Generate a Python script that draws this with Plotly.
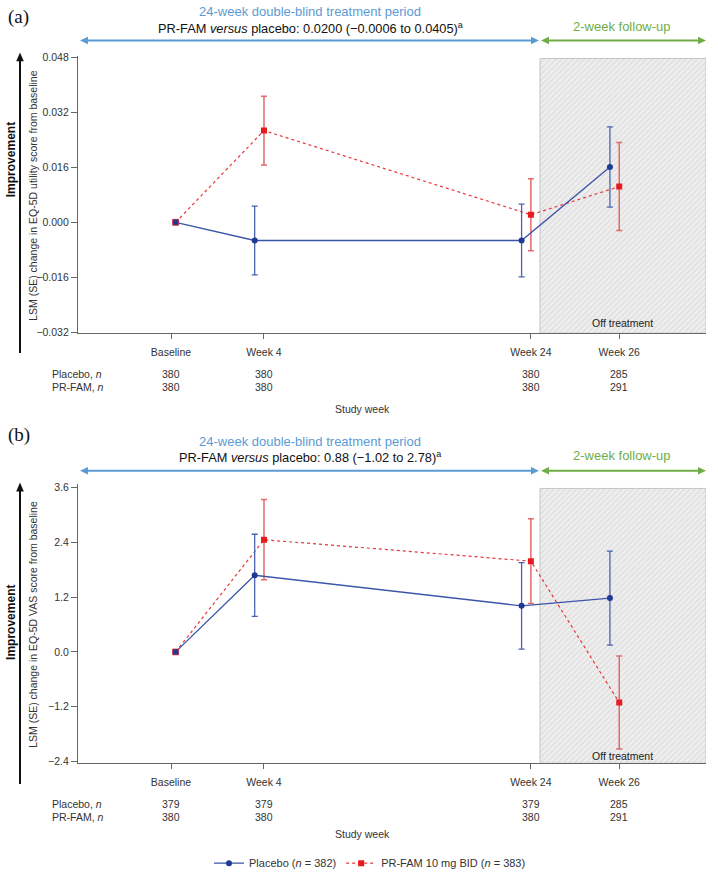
import plotly.graph_objects as go

W, H = 718, 879

# ---------------- data ----------------
weeks = ["Baseline", "Week 4", "Week 24", "Week 26"]
week_pos = [0, 1, 3.87, 4.82]          # slot positions on the (broken) study-week axis
placebo_shift = [0.05, -0.1, -0.1, -0.1]
prfam_shift = [0.05, 0.0, 0.0, 0.0]
followup_start = 3.968

# (a) EQ-5D utility score
a_placebo = [0.0, -0.0053, -0.0053, 0.0161]
a_placebo_se = [0.0, 0.0100, 0.0106, 0.0117]
a_prfam = [0.0, 0.0267, 0.0022, 0.0104]
a_prfam_se = [0.0, 0.0100, 0.0105, 0.0128]
a_n_placebo = [380, 380, 380, 285]
a_n_prfam = [380, 380, 380, 291]
a_yticks = [-0.032, -0.016, 0.0, 0.016, 0.032, 0.048]

# (b) EQ-5D VAS score
b_placebo = [0.0, 1.68, 1.01, 1.18]
b_placebo_se = [0.0, 0.90, 0.95, 1.03]
b_prfam = [0.0, 2.46, 1.99, -1.11]
b_prfam_se = [0.0, 0.88, 0.93, 1.02]
b_n_placebo = [379, 379, 379, 285]
b_n_prfam = [380, 380, 380, 291]
b_yticks = [-2.4, -1.2, 0.0, 1.2, 2.4, 3.6]

# ---------------- styling ----------------
BLUE_LINE = "#3a55a8"
BLUE_MK = "#1f3a93"
BLUE_ERR = "#4a63b0"
RED_LINE = "#e8363b"
RED_MK = "#e8191f"
RED_ERR = "#e26a6a"
TITLE_BLUE = "#5b9bd5"
GREEN = "#70ad47"
FONT = "Liberation Sans, Arial, sans-serif"
TXT = "#333333"


def px(x):
    return x / W


def py(y):
    return 1 - y / H


def path(points):
    return "M " + " L ".join(f"{px(x):.5f},{py(y):.5f}" for x, y in points) + " Z"


def hline_arrow(x0, x1, y, color, shapes, head=8, half=3.8, width=2):
    shapes.append(dict(type="line", xref="paper", yref="paper",
                       x0=px(x0 + head - 1), x1=px(x1 - head + 1), y0=py(y), y1=py(y),
                       line=dict(color=color, width=width)))
    shapes.append(dict(type="path", xref="paper", yref="paper", fillcolor=color, line=dict(width=0),
                       path=path([(x0, y), (x0 + head, y - half), (x0 + head, y + half)])))
    shapes.append(dict(type="path", xref="paper", yref="paper", fillcolor=color, line=dict(width=0),
                       path=path([(x1, y), (x1 - head, y - half), (x1 - head, y + half)])))


def vline_arrow(x, y_bottom, y_tip, color, shapes, head=9, half=3.8, width=2):
    shapes.append(dict(type="line", xref="paper", yref="paper",
                       x0=px(x), x1=px(x), y0=py(y_bottom), y1=py(y_tip + head - 1),
                       line=dict(color=color, width=width)))
    shapes.append(dict(type="path", xref="paper", yref="paper", fillcolor=color, line=dict(width=0),
                       path=path([(x, y_tip), (x - half, y_tip + head), (x + half, y_tip + head)])))


def label(text, x, y, size=10.5, color=TXT, xanchor="center", **kw):
    d = dict(text=text, x=px(x), y=py(y), xref="paper", yref="paper", showarrow=False,
             xanchor=xanchor, yanchor="middle", font=dict(family=FONT, size=size, color=color))
    d.update(kw)
    return d


panels = [
    dict(key="", top=52, bottom=332,
         yrange=[-0.0323, 0.0483], ytop_fill=0.0477, yticks=a_yticks, fmt=".3f",
         pl=a_placebo, pls=a_placebo_se, pr=a_prfam, prs=a_prfam_se,
         npl=a_n_placebo, npr=a_n_prfam,
         ytitle="LSM (SE) change in EQ-5D utility score from baseline",
         label="(a)", label_y=12, t1_y=7, t2_y=23, arrow_y=36,
         comp="PR-FAM <i>versus</i> placebo: 0.0200 (\u22120.0006 to 0.0405)<sup>a</sup>",
         impr_y=157, varrow=(352, 48), row1=373, row2=386, sw=409, off_y=322),
    dict(key="2", top=485, bottom=767,
         yrange=[-2.443, 3.672], ytop_fill=3.585, yticks=b_yticks, fmt=".1f",
         pl=b_placebo, pls=b_placebo_se, pr=b_prfam, prs=b_prfam_se,
         npl=b_n_placebo, npr=b_n_prfam,
         ytitle="LSM (SE) change in EQ-5D VAS score from baseline",
         label="(b)", label_y=435, t1_y=442, t2_y=457, arrow_y=471,
         comp="PR-FAM <i>versus</i> placebo: 0.88 (\u22121.02 to 2.78)<sup>a</sup>",
         impr_y=625, varrow=(788, 483), row1=808, row2=821, sw=839, off_y=760),
]

XRANGE = [-1.0, 5.753]

fig = go.Figure()
annotations = []
shapes = []
layout_axes = {}

for i, p in enumerate(panels):
    xa = "x" + p["key"]
    ya = "y" + p["key"]
    first = i == 0

    # follow-up shaded (hatched) region
    yb = p["yrange"][0]
    yt = p["ytop_fill"]
    fig.add_trace(go.Scatter(
        x=[followup_start, XRANGE[1], XRANGE[1], followup_start, followup_start],
        y=[yb, yb, yt, yt, yb],
        fill="toself", mode="lines",
        line=dict(color="#c4c4c4", width=1),
        fillcolor="#eeeeee",
        fillpattern=dict(shape="/", fgcolor="#c3c3c3", bgcolor="#eeeeee", size=4, solidity=0.25),
        hoverinfo="skip", showlegend=False, xaxis=xa, yaxis=ya,
    ))

    # PR-FAM
    fig.add_trace(go.Scatter(
        x=[w + s for w, s in zip(week_pos, prfam_shift)], y=p["pr"],
        mode="lines+markers",
        line=dict(color=RED_LINE, width=1.2, dash="dot"),
        marker=dict(symbol="square", size=6, color=RED_MK),
        error_y=dict(type="data", array=p["prs"], visible=True, color=RED_ERR, thickness=1.5, width=3),
        name="PR-FAM 10 mg BID (<i>n</i> = 383)", legendgroup="pr", showlegend=first,
        legendrank=2, xaxis=xa, yaxis=ya,
    ))
    # Placebo
    fig.add_trace(go.Scatter(
        x=[w + s for w, s in zip(week_pos, placebo_shift)], y=p["pl"],
        mode="lines+markers",
        line=dict(color=BLUE_LINE, width=1.3),
        marker=dict(symbol="circle", size=6, color=BLUE_MK),
        error_y=dict(type="data", array=p["pls"], visible=True, color=BLUE_ERR, thickness=1.3, width=3),
        name="Placebo (<i>n</i> = 382)", legendgroup="pl", showlegend=first,
        legendrank=1, xaxis=xa, yaxis=ya,
    ))
    # shared baseline point (both groups start at 0)
    fig.add_trace(go.Scatter(
        x=[week_pos[0] + prfam_shift[0]], y=[p["pr"][0]], mode="markers",
        marker=dict(symbol="square", size=6, color=BLUE_MK, line=dict(color=RED_LINE, width=0.7)),
        showlegend=False, hoverinfo="skip", xaxis=xa, yaxis=ya,
    ))

    layout_axes["xaxis" + p["key"]] = dict(
        domain=[px(78), px(706)], anchor=ya, range=XRANGE,
        tickvals=week_pos, ticktext=weeks, ticks="outside", ticklen=5, tickcolor="#666",
        showline=True, linecolor="#666", linewidth=1.2, showgrid=False, zeroline=False,
        tickfont=dict(family=FONT, size=10.5, color=TXT), ticklabelstandoff=4,
    )
    layout_axes["yaxis" + p["key"]] = dict(
        domain=[py(p["bottom"]), py(p["top"])], anchor=xa, range=p["yrange"],
        tickvals=p["yticks"], tickformat=p["fmt"], ticks="outside", ticklen=6, tickcolor="#666",
        showline=True, linecolor="#666", linewidth=1.2, showgrid=False, zeroline=False,
        tickfont=dict(family=FONT, size=10.5, color=TXT),
    )

    # panel label
    annotations.append(dict(text=p["label"], x=px(6), y=py(p["label_y"]), xref="paper", yref="paper",
                            xanchor="left", yanchor="middle", showarrow=False,
                            font=dict(family="Liberation Serif, Times New Roman, serif", size=19, color="#111")))
    # headers
    annotations.append(label("24-week double-blind treatment period", 310, p["t1_y"], size=13, color=TITLE_BLUE))
    annotations.append(label(p["comp"], 310, p["t2_y"], size=12.8, color="#111"))
    annotations.append(label("2-week follow-up", 622, p["t2_y"] - 1, size=13, color=GREEN))
    # period arrows
    hline_arrow(80, 539, p["arrow_y"], TITLE_BLUE, shapes)
    hline_arrow(541, 706, p["arrow_y"], GREEN, shapes)
    # improvement arrow and label
    vline_arrow(20, p["varrow"][0], p["varrow"][1], "#111", shapes)
    annotations.append(label("<b>Improvement</b>", 11, p["impr_y"], size=12, color="#111", textangle=-90))
    # y axis title
    annotations.append(label(p["ytitle"], 33, (p["top"] + p["bottom"]) / 2 + 1, size=10.5, textangle=-90))
    # off treatment
    annotations.append(label("Off treatment", 622, p["off_y"], size=10.5, color="#222"))
    # n table
    annotations.append(label("Placebo, <i>n</i>", 50, p["row1"], xanchor="left"))
    annotations.append(label("PR-FAM, <i>n</i>", 50, p["row2"], xanchor="left"))
    for w, n1, n2 in zip(week_pos, p["npl"], p["npr"]):
        annotations.append(dict(text=str(n1), x=w, y=py(p["row1"]), xref=xa, yref="paper",
                                showarrow=False, xanchor="center", yanchor="middle",
                                font=dict(family=FONT, size=10.5, color=TXT)))
        annotations.append(dict(text=str(n2), x=w, y=py(p["row2"]), xref=xa, yref="paper",
                                showarrow=False, xanchor="center", yanchor="middle",
                                font=dict(family=FONT, size=10.5, color=TXT)))
    annotations.append(label("Study week", 362, p["sw"]))

fig.update_layout(
    width=W, height=H,
    margin=dict(l=0, r=0, t=0, b=0),
    paper_bgcolor="white", plot_bgcolor="white",
    font=dict(family=FONT, color=TXT),
    showlegend=True,
    legend=dict(orientation="h", x=px(370), xanchor="center", y=py(868), yanchor="middle",
                font=dict(family=FONT, size=11, color=TXT), bgcolor="rgba(0,0,0,0)",
                itemwidth=30, tracegroupgap=0),
    annotations=annotations,
    shapes=shapes,
    **layout_axes,
)

fig.write_html("out.html", config={"displayModeBar": False},
               post_script="document.body.style.margin='0px';")
